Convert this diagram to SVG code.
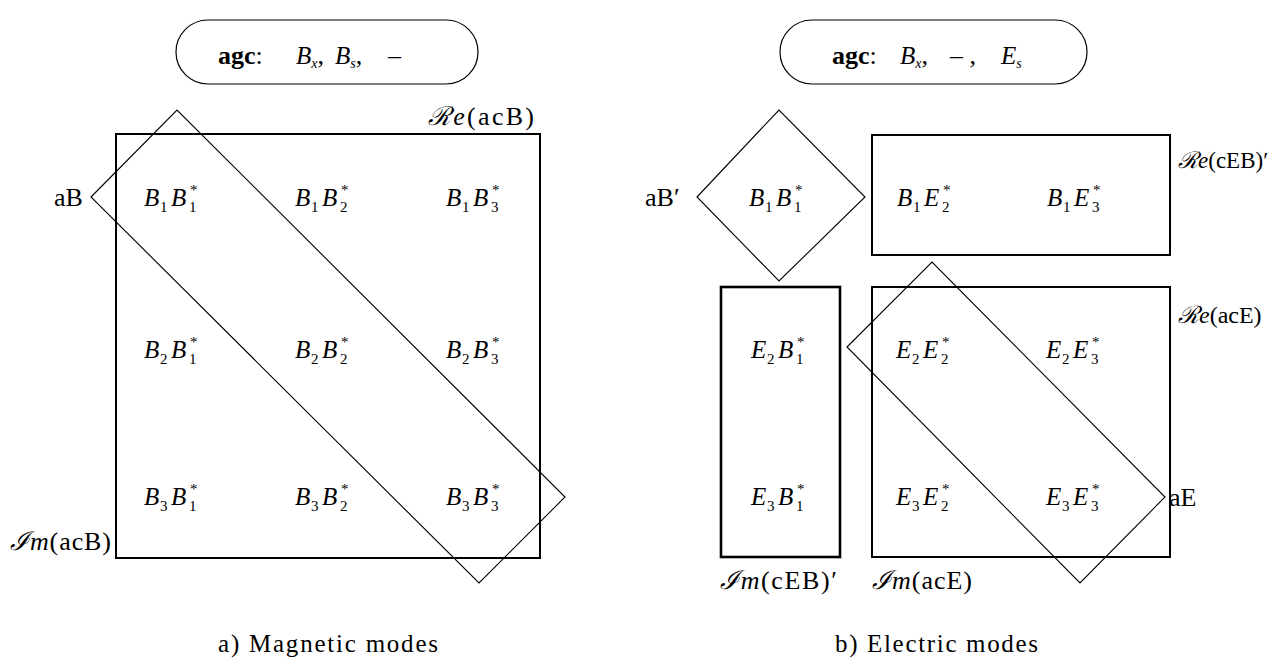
<svg xmlns="http://www.w3.org/2000/svg" width="1270" height="661" viewBox="0 0 1270 661">
<style>
.box{fill:none;stroke:#000;stroke-width:2}
.dia{fill:none;stroke:#000;stroke-width:1.1}
.pill{fill:none;stroke:#000;stroke-width:1.2}
.m{font-family:"Liberation Serif",serif;font-style:italic;font-size:25px}
.s{font-style:normal;font-size:15px}
.r{font-family:"Liberation Serif",serif;font-size:26px}
.it{font-style:italic}
.cal{font-family:"DejaVu Serif",serif;font-style:italic}
.b{font-weight:bold}
.cap{font-family:"Liberation Serif",serif;font-size:25px}
</style>
<rect width="1270" height="661" fill="#fff"/>
<g id="connectors"/>

<g id="pill-a">
<rect class="pill" x="176" y="20" width="302" height="64" rx="32"/>
<text class="r" x="218" y="64"><tspan class="b">agc</tspan>:</text>
<text class="m" x="296" y="64">B<tspan class="s it" style="font-size:14px" dy="4">x</tspan><tspan class="r" style="font-style:normal" dy="-4">,</tspan></text>
<text class="m" x="335" y="64">B<tspan class="s it" style="font-size:14px" dy="4">s</tspan><tspan class="r" style="font-style:normal" dy="-4">,</tspan></text>
<text class="r" x="388" y="64">–</text>
</g>

<g id="pill-b">
<rect class="pill" x="780" y="20" width="307" height="64" rx="32"/>
<text class="r" x="832" y="64"><tspan class="b">agc</tspan>:</text>
<text class="m" x="900" y="64">B<tspan class="s it" style="font-size:14px" dy="4">x</tspan><tspan class="r" style="font-style:normal" dy="-4">,</tspan></text>
<text class="r" x="950" y="64">– ,</text>
<text class="m" x="1001" y="64">E<tspan class="s it" style="font-size:14px" dy="4">s</tspan></text>
</g>

<g id="acB">
<rect class="box" x="116" y="134" width="424" height="424"/>
<text class="r" x="428" y="125" textLength="106" lengthAdjust="spacing"><tspan class="cal">ℛ</tspan><tspan class="it">e</tspan>(acB)</text>
<text class="r" x="10" y="550" textLength="101" lengthAdjust="spacing"><tspan class="cal">ℐ</tspan><tspan class="it">m</tspan>(acB)</text>
</g>

<g id="aB">
<polygon class="dia" points="91,197 177,110 565,497 479,583"/>
<text class="r" x="54" y="206">aB</text>
</g>

<g id="entries-a" class="m">
<g transform="translate(144,206)"><text><tspan>B</tspan><tspan class="s" x="16" y="6">1</tspan><tspan x="27" y="0">B</tspan><tspan class="s" x="46" y="-11">*</tspan><tspan class="s" x="45" y="6">1</tspan></text></g>
<g transform="translate(295,206)"><text><tspan>B</tspan><tspan class="s" x="16" y="6">1</tspan><tspan x="27" y="0">B</tspan><tspan class="s" x="46" y="-11">*</tspan><tspan class="s" x="45" y="6">2</tspan></text></g>
<g transform="translate(446,206)"><text><tspan>B</tspan><tspan class="s" x="16" y="6">1</tspan><tspan x="27" y="0">B</tspan><tspan class="s" x="46" y="-11">*</tspan><tspan class="s" x="45" y="6">3</tspan></text></g>
<g transform="translate(144,358)"><text><tspan>B</tspan><tspan class="s" x="16" y="6">2</tspan><tspan x="27" y="0">B</tspan><tspan class="s" x="46" y="-11">*</tspan><tspan class="s" x="45" y="6">1</tspan></text></g>
<g transform="translate(295,358)"><text><tspan>B</tspan><tspan class="s" x="16" y="6">2</tspan><tspan x="27" y="0">B</tspan><tspan class="s" x="46" y="-11">*</tspan><tspan class="s" x="45" y="6">2</tspan></text></g>
<g transform="translate(446,358)"><text><tspan>B</tspan><tspan class="s" x="16" y="6">2</tspan><tspan x="27" y="0">B</tspan><tspan class="s" x="46" y="-11">*</tspan><tspan class="s" x="45" y="6">3</tspan></text></g>
<g transform="translate(144,505)"><text><tspan>B</tspan><tspan class="s" x="16" y="6">3</tspan><tspan x="27" y="0">B</tspan><tspan class="s" x="46" y="-11">*</tspan><tspan class="s" x="45" y="6">1</tspan></text></g>
<g transform="translate(295,505)"><text><tspan>B</tspan><tspan class="s" x="16" y="6">3</tspan><tspan x="27" y="0">B</tspan><tspan class="s" x="46" y="-11">*</tspan><tspan class="s" x="45" y="6">2</tspan></text></g>
<g transform="translate(446,505)"><text><tspan>B</tspan><tspan class="s" x="16" y="6">3</tspan><tspan x="27" y="0">B</tspan><tspan class="s" x="46" y="-11">*</tspan><tspan class="s" x="45" y="6">3</tspan></text></g>
</g>

<g id="aBp">
<polygon class="dia" points="697,197 779,110 865,197 779,281"/>
<text class="r" x="645" y="206">aB′</text>
<g class="m" transform="translate(749,206)"><text><tspan>B</tspan><tspan class="s" x="16" y="6">1</tspan><tspan x="27" y="0">B</tspan><tspan class="s" x="46" y="-11">*</tspan><tspan class="s" x="45" y="6">1</tspan></text></g>
</g>

<g id="cEB-re">
<rect class="box" x="872" y="135" width="298" height="120"/>
<text class="r" x="1178" y="168" style="font-size:23px"><tspan class="cal" style="font-size:23px">ℛ</tspan><tspan class="it">e</tspan>(cEB)′</text>
<g class="m" transform="translate(897,206)"><text><tspan>B</tspan><tspan class="s" x="16" y="6">1</tspan><tspan x="27" y="0">E</tspan><tspan class="s" x="46" y="-11">*</tspan><tspan class="s" x="45" y="6">2</tspan></text></g>
<g class="m" transform="translate(1047,206)"><text><tspan>B</tspan><tspan class="s" x="16" y="6">1</tspan><tspan x="27" y="0">E</tspan><tspan class="s" x="46" y="-11">*</tspan><tspan class="s" x="45" y="6">3</tspan></text></g>
</g>

<g id="cEB-im">
<rect class="box" x="721" y="287" width="119" height="270" style="stroke-width:2.6"/>
<text class="r" x="720" y="589" textLength="117" lengthAdjust="spacing"><tspan class="cal">ℐ</tspan><tspan class="it">m</tspan>(cEB)′</text>
<g class="m" transform="translate(751,358)"><text><tspan>E</tspan><tspan class="s" x="16" y="6">2</tspan><tspan x="27" y="0">B</tspan><tspan class="s" x="46" y="-11">*</tspan><tspan class="s" x="45" y="6">1</tspan></text></g>
<g class="m" transform="translate(751,505)"><text><tspan>E</tspan><tspan class="s" x="16" y="6">3</tspan><tspan x="27" y="0">B</tspan><tspan class="s" x="46" y="-11">*</tspan><tspan class="s" x="45" y="6">1</tspan></text></g>
</g>

<g id="acE">
<rect class="box" x="872" y="287" width="298" height="270"/>
<text class="r" x="1178" y="323" style="font-size:24px"><tspan class="cal">ℛ</tspan><tspan class="it">e</tspan>(acE)</text>
<text class="r" x="872" y="589" textLength="100" lengthAdjust="spacing"><tspan class="cal">ℐ</tspan><tspan class="it">m</tspan>(acE)</text>
<g class="m" transform="translate(896,358)"><text><tspan>E</tspan><tspan class="s" x="16" y="6">2</tspan><tspan x="27" y="0">E</tspan><tspan class="s" x="46" y="-11">*</tspan><tspan class="s" x="45" y="6">2</tspan></text></g>
<g class="m" transform="translate(1046,358)"><text><tspan>E</tspan><tspan class="s" x="16" y="6">2</tspan><tspan x="27" y="0">E</tspan><tspan class="s" x="46" y="-11">*</tspan><tspan class="s" x="45" y="6">3</tspan></text></g>
<g class="m" transform="translate(896,505)"><text><tspan>E</tspan><tspan class="s" x="16" y="6">3</tspan><tspan x="27" y="0">E</tspan><tspan class="s" x="46" y="-11">*</tspan><tspan class="s" x="45" y="6">2</tspan></text></g>
<g class="m" transform="translate(1046,505)"><text><tspan>E</tspan><tspan class="s" x="16" y="6">3</tspan><tspan x="27" y="0">E</tspan><tspan class="s" x="46" y="-11">*</tspan><tspan class="s" x="45" y="6">3</tspan></text></g>
</g>

<g id="aE">
<polygon class="dia" points="847,347 932,262 1165,497 1080,583"/>
<text class="r" x="1169" y="506">aE</text>
</g>

<g id="captions">
<text class="cap" x="218" y="652" textLength="220" lengthAdjust="spacing">a) Magnetic modes</text>
<text class="cap" x="835" y="652" textLength="203" lengthAdjust="spacing">b) Electric modes</text>
</g>
</svg>
